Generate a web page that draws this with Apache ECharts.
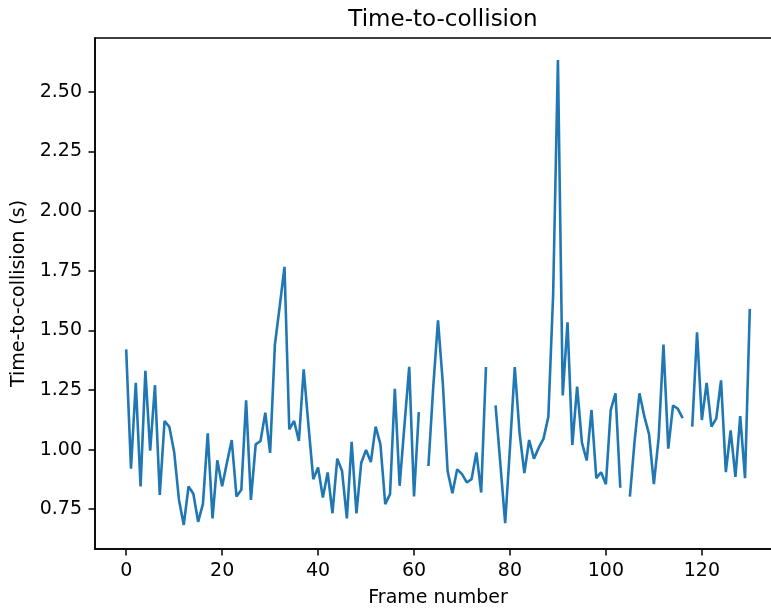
<!DOCTYPE html>
<html>
<head>
<meta charset="utf-8">
<script src="https://cdn.jsdelivr.net/npm/echarts@6/dist/echarts.min.js"></script>
<style>
html,body{margin:0;padding:0;background:#fff;overflow:hidden;}
#chart{width:800px;height:613px;}
</style>
</head>
<body>
<div id="chart"></div>
<script>
// Time-to-collision per frame (null = missing frame)
const ttcValues = [
  1.42, 0.92, 1.28, 0.845, 1.33, 0.995, 1.27, 0.81, 1.12, 1.095,
  0.99, 0.79, 0.684, 0.845, 0.815, 0.697, 0.772, 1.068, 0.711, 0.955,
  0.846, 0.945, 1.04, 0.803, 0.831, 1.207, 0.789, 1.022, 1.036, 1.155,
  0.986, 1.44, 1.60, 1.766, 1.085, 1.12, 1.036, 1.336, 1.10, 0.876,
  0.925, 0.799, 0.904, 0.733, 0.962, 0.91, 0.711, 1.032, 0.732, 0.945,
  0.998, 0.948, 1.096, 1.022, 0.771, 0.813, 1.255, 0.848, 1.10, 1.347,
  0.803, 1.157, null, 0.931, 1.26, 1.542, 1.28, 0.91, 0.817, 0.917,
  0.897, 0.862, 0.876, 0.988, 0.82, 1.346, null, 1.185, 0.94, 0.691,
  1.007, 1.346, 1.07, 0.901, 1.04, 0.962, 1.008, 1.046, 1.137, 1.65,
  2.634, 1.227, 1.534, 1.019, 1.264, 1.029, 0.954, 1.166, 0.88, 0.905,
  0.855, 1.165, 1.236, 0.84, null, 0.803, 1.04, 1.236, 1.14, 1.064,
  0.855, 1.05, 1.44, 1.004, 1.185, 1.171, 1.132, null, 1.096, 1.492,
  1.124, 1.28, 1.096, 1.13, 1.29, 0.905, 1.08, 0.885, 1.14, 0.88,
  1.59
];
const xTicks = [0, 20, 40, 60, 80, 100, 120];
const yTicks = [0.75, 1.00, 1.25, 1.50, 1.75, 2.00, 2.25, 2.50];

const seriesData = ttcValues.map((v, i) => [i, v]);
const FONT = 'DejaVu Sans';
const TXT = '#000';

const chart = echarts.init(document.getElementById('chart'), null, {renderer: 'canvas'});
chart.setOption({
  animation: false,
  backgroundColor: '#fff',
  title: {
    text: 'Time-to-collision',
    left: 438,
    top: 4,
    textAlign: 'center',
    textStyle: {fontFamily: FONT, fontSize: 23, fontWeight: 'normal', color: TXT}
  },
  grid: {
    left: 95, top: 38, right: 19, bottom: 63,
    show: true, borderColor: '#000', borderWidth: 1.5, backgroundColor: 'transparent',
    containLabel: false
  },
  xAxis: {
    type: 'value',
    min: -6.5, max: 136.5,
    splitLine: {show: false},
    axisLine: {show: true, onZero: false, lineStyle: {color: '#000', width: 1.5}},
    axisTick: {show: true, length: 6.5, customValues: xTicks, lineStyle: {color: '#000', width: 1.5}},
    axisLabel: {customValues: xTicks, margin: 13, fontFamily: FONT, fontSize: 19, color: TXT},
    name: 'Frame number',
    nameLocation: 'middle',
    nameGap: 40,
    nameTextStyle: {fontFamily: FONT, fontSize: 19, color: TXT}
  },
  yAxis: {
    type: 'value',
    min: 0.583, max: 2.726,
    splitLine: {show: false},
    axisLine: {show: true, onZero: false, lineStyle: {color: '#000', width: 1.5}},
    axisTick: {show: true, length: 6.5, customValues: yTicks, lineStyle: {color: '#000', width: 1.5}},
    axisLabel: {customValues: yTicks, margin: 13, fontFamily: FONT, fontSize: 19, color: TXT,
      formatter: v => Number(v).toFixed(2)},
    name: 'Time-to-collision (s)',
    nameLocation: 'middle',
    nameGap: 60,
    nameTextStyle: {fontFamily: FONT, fontSize: 19, color: TXT}
  },
  series: [{
    type: 'line',
    data: seriesData,
    showSymbol: false,
    connectNulls: false,
    clip: true,
    lineStyle: {color: '#1f77b4', width: 2.6},
    itemStyle: {color: '#1f77b4'}
  }]
});
</script>
</body>
</html>
